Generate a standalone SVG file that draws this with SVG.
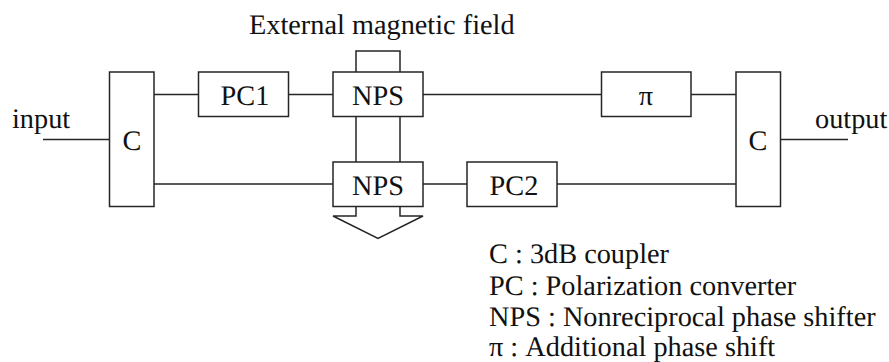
<svg xmlns="http://www.w3.org/2000/svg" width="889" height="362" viewBox="0 0 889 362">
<style>
.b{fill:#fff;stroke:#262626;stroke-width:1.5}
.l{fill:none;stroke:#262626;stroke-width:1.5}
text{font-family:"Liberation Serif","Times New Roman",serif;font-size:28.3px;fill:#111;text-rendering:geometricPrecision}
.m{text-anchor:middle}
</style>
<rect width="889" height="362" fill="#fff"/>
<g id="connectors">
<path class="l" d="M43 139.5H109.5M154 94.5H198.5M288.5 94.5H333M423 94.5H601.5M691 94.5H736M154 184H333M423 184H467M557 184H736M780.5 139.5H848"/>
<path class="l" d="M356 72V51H400V72M356 116.5V162M400 116.5V162"/>
<path id="field-arrow" class="l" d="M356 206V216H333L378 238.500L423 216H400V206"/>
</g>
<g id="c1"><rect class="b" x="109.500" y="72" width="44.500" height="134.500"/><text class="m" x="132" y="150">C</text></g>
<g id="pc1"><rect class="b" x="198.500" y="72" width="90" height="44.500"/><text class="m" x="245" y="105">PC1</text></g>
<g id="nps1"><rect class="b" x="333" y="72" width="90" height="44.500"/><text class="m" x="378" y="105">NPS</text></g>
<g id="pi"><rect class="b" x="601.500" y="72" width="89.500" height="44.500"/><text class="m" x="646" y="105">π</text></g>
<g id="c2"><rect class="b" x="736" y="72" width="44.500" height="134.500"/><text class="m" x="758" y="150">C</text></g>
<g id="nps2"><rect class="b" x="333" y="162" width="90" height="44.500"/><text class="m" x="378" y="195">NPS</text></g>
<g id="pc2"><rect class="b" x="467" y="162" width="90" height="44.500"/><text class="m" x="514" y="195">PC2</text></g>
<g id="labels">
<text x="249" y="34">External magnetic field</text>
<text x="12" y="128">input</text>
<text x="815" y="128">output</text>
<text x="489" y="263">C : 3dB coupler</text>
<text x="489" y="295">PC : Polarization converter</text>
<text x="489" y="326">NPS : Nonreciprocal phase shifter</text>
<text x="489" y="355.500">π : Additional phase shift</text>
</g>
</svg>
